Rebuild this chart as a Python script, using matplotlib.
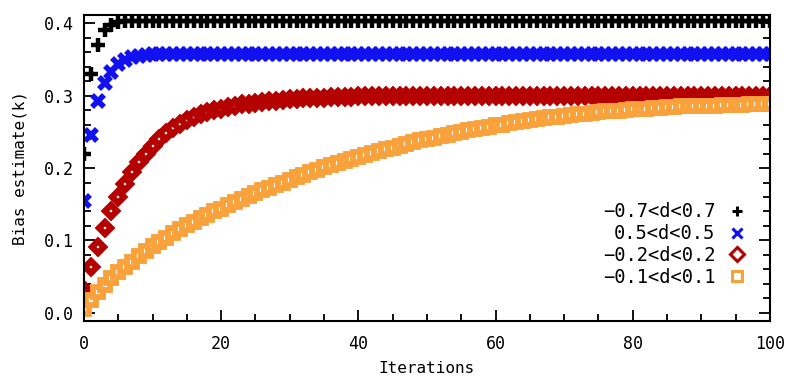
import numpy as np
import matplotlib
matplotlib.use("Agg")
import matplotlib.pyplot as plt
from matplotlib.ticker import MultipleLocator

iterations = list(range(101))

bias_07 = [0.220, 0.330, 0.370, 0.390, 0.398, 0.402] + [
    0.403, 0.403, 0.403, 0.403, 0.403, 0.403, 0.403, 0.403, 0.403, 0.403,
    0.403, 0.403, 0.403, 0.403, 0.403, 0.403, 0.403, 0.403, 0.403, 0.403,
    0.403, 0.403, 0.403, 0.403, 0.403, 0.403, 0.403, 0.403, 0.403, 0.403,
    0.403, 0.403, 0.403, 0.403, 0.403, 0.403, 0.403, 0.403, 0.403, 0.403,
    0.403, 0.403, 0.403, 0.403, 0.403, 0.403, 0.403, 0.403, 0.403, 0.403,
    0.403, 0.403, 0.403, 0.403, 0.403, 0.403, 0.403, 0.403, 0.403, 0.403,
    0.403, 0.403, 0.403, 0.403, 0.403, 0.403, 0.403, 0.403, 0.403, 0.403,
    0.403, 0.403, 0.403, 0.403, 0.403, 0.403, 0.403, 0.403, 0.403, 0.403,
    0.403, 0.403, 0.403, 0.403, 0.403, 0.403, 0.403, 0.403, 0.403, 0.403,
    0.403, 0.403, 0.403, 0.403, 0.403]

bias_05 = [0.155, 0.245, 0.292, 0.318, 0.333, 0.343, 0.349, 0.353, 0.355, 0.356,
           0.357] + [
    0.358, 0.358, 0.358, 0.358, 0.358, 0.358, 0.358, 0.358, 0.358, 0.358,
    0.358, 0.358, 0.358, 0.358, 0.358, 0.358, 0.358, 0.358, 0.358, 0.358,
    0.358, 0.358, 0.358, 0.358, 0.358, 0.358, 0.358, 0.358, 0.358, 0.358,
    0.358, 0.358, 0.358, 0.358, 0.358, 0.358, 0.358, 0.358, 0.358, 0.358,
    0.358, 0.358, 0.358, 0.358, 0.358, 0.358, 0.358, 0.358, 0.358, 0.358,
    0.358, 0.358, 0.358, 0.358, 0.358, 0.358, 0.358, 0.358, 0.358, 0.358,
    0.358, 0.358, 0.358, 0.358, 0.358, 0.358, 0.358, 0.358, 0.358, 0.358,
    0.358, 0.358, 0.358, 0.358, 0.358, 0.358, 0.358, 0.358, 0.358, 0.358,
    0.358, 0.358, 0.358, 0.358, 0.358, 0.358, 0.358, 0.358, 0.358, 0.358]

bias_02 = [
    0.032, 0.063, 0.091, 0.117, 0.140, 0.160, 0.178, 0.194, 0.208, 0.220,
    0.231, 0.240, 0.248, 0.255, 0.261, 0.266, 0.270, 0.274, 0.277, 0.280,
    0.282, 0.284, 0.286, 0.288, 0.289, 0.290, 0.291, 0.292, 0.293, 0.294,
    0.295, 0.2955, 0.296, 0.2965, 0.297, 0.297, 0.2975, 0.298, 0.298, 0.2985,
    0.299, 0.299, 0.299, 0.299, 0.299, 0.299, 0.299, 0.299, 0.299, 0.299,
    0.300, 0.300, 0.300, 0.300, 0.300, 0.300, 0.300, 0.300, 0.300, 0.300,
    0.300, 0.300, 0.300, 0.300, 0.300, 0.300, 0.300, 0.300, 0.300, 0.300,
    0.300, 0.300, 0.300, 0.300, 0.300, 0.300, 0.300, 0.300, 0.300, 0.300,
    0.300, 0.300, 0.300, 0.300, 0.300, 0.300, 0.300, 0.300, 0.300, 0.300,
    0.300, 0.300, 0.300, 0.300, 0.300, 0.300, 0.300, 0.300, 0.300, 0.300,
    0.300]

bias_01 = [
    0.005, 0.018, 0.029, 0.039, 0.048, 0.056, 0.064, 0.071, 0.078, 0.085,
    0.092, 0.098, 0.104, 0.110, 0.116, 0.121, 0.126, 0.131, 0.135, 0.140,
    0.144, 0.149, 0.153, 0.157, 0.161, 0.165, 0.169, 0.173, 0.177, 0.180,
    0.184, 0.187, 0.191, 0.194, 0.197, 0.201, 0.204, 0.207, 0.210, 0.212,
    0.215, 0.218, 0.221, 0.223, 0.226, 0.228, 0.231, 0.233, 0.236, 0.238,
    0.240, 0.242, 0.244, 0.246, 0.248, 0.250, 0.252, 0.254, 0.255, 0.257,
    0.259, 0.260, 0.262, 0.263, 0.265, 0.266, 0.267, 0.269, 0.270, 0.271,
    0.272, 0.273, 0.274, 0.275, 0.276, 0.277, 0.278, 0.279, 0.279, 0.280,
    0.281, 0.281, 0.282, 0.283, 0.283, 0.284, 0.284, 0.285, 0.285, 0.285,
    0.286, 0.286, 0.286, 0.287, 0.287, 0.287, 0.287, 0.288, 0.288, 0.288,
    0.288]

labels = ["\u22120.7<d<0.7", "0.5<d<0.5", "\u22120.2<d<0.2", "\u22120.1<d<0.1"]

plt.rcParams["font.family"] = ["DejaVu Sans Mono", "DejaVu Sans"]

fig = plt.figure(figsize=(7.88, 3.78), dpi=100)
ax = fig.add_axes([0.1066, 0.151, 0.8704, 0.809])

ax.plot(iterations, bias_07, linestyle="none", marker="+", color="black",
        markersize=10, markeredgewidth=3.2, label=labels[0])
ax.plot(iterations, bias_05, linestyle="none", marker="x", color="#1010f0",
        markersize=9, markeredgewidth=4, label=labels[1])
ax.plot(iterations, bias_02, linestyle="none", marker="D", color="#b50000",
        markerfacecolor="white", markersize=6.5, markeredgewidth=4.5,
        label=labels[2])
ax.plot(iterations, bias_01, linestyle="none", marker="s", color="#f9a23c",
        markerfacecolor="white", markersize=6.8, markeredgewidth=4.2,
        label=labels[3])

ax.set_xlim(0, 100)
ax.set_ylim(-0.011, 0.411)
ax.xaxis.set_major_locator(MultipleLocator(20))
ax.xaxis.set_minor_locator(MultipleLocator(5))
ax.yaxis.set_minor_locator(MultipleLocator(0.02))
ax.set_yticks([0.0, 0.1, 0.2, 0.3, 0.4])
ax.set_yticklabels(["0.0", "0.1", "0.2", "0.3", "0.4"])
ax.tick_params(which="both", direction="in", top=True, right=True,
               width=1.3, labelsize=12, colors="black")
ax.tick_params(axis="x", pad=10)
ax.tick_params(axis="y", pad=7)
ax.tick_params(which="major", length=8)
ax.tick_params(which="minor", length=5)
for s in ax.spines.values():
    s.set_linewidth(1.5)

ax.set_xlabel("Iterations", fontsize=11.5, labelpad=6)
ax.set_ylabel("Bias estimate(k)", fontsize=11.5, labelpad=12)

leg = ax.legend(loc="lower right", bbox_to_anchor=(0.975, 0.087), frameon=False,
                markerfirst=False, fontsize=13.5, handlelength=0.9,
                handletextpad=0.7, labelspacing=0.15, borderaxespad=0)
for h in leg.legend_handles:
    h.set_markersize(7)
    h.set_markeredgewidth(2.2)

fig.savefig("out.png", dpi=100)
